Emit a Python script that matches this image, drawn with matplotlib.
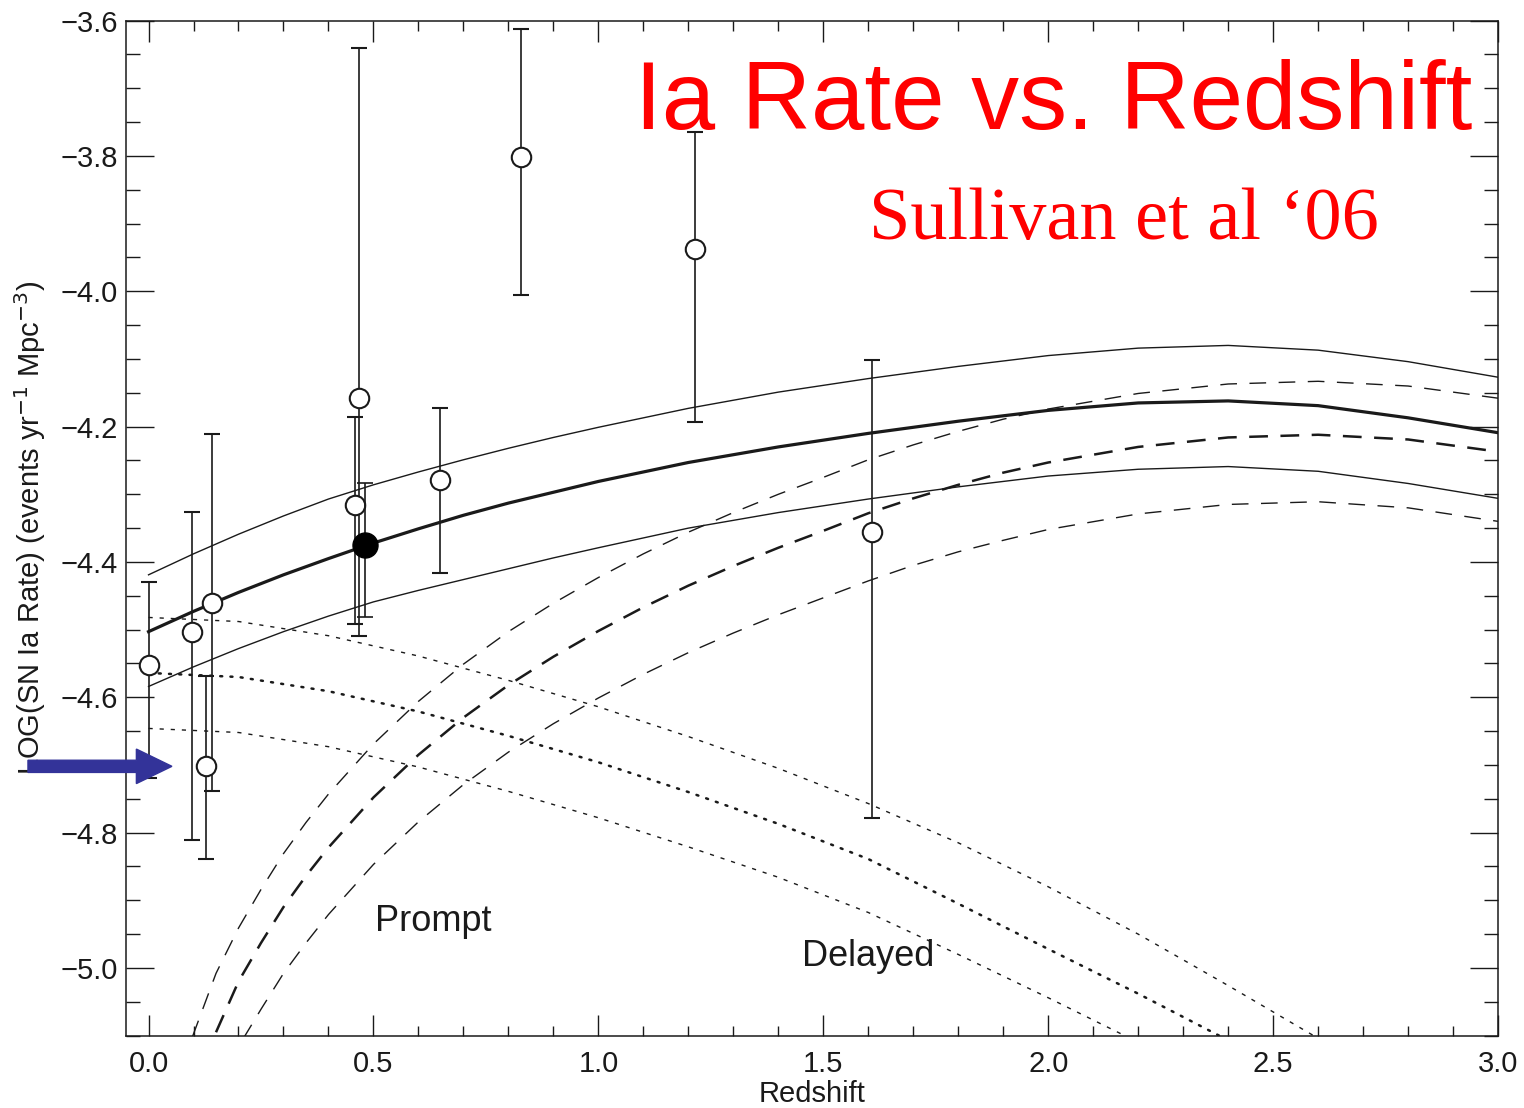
import matplotlib
matplotlib.use('Agg')
import matplotlib.pyplot as plt
from matplotlib.ticker import MultipleLocator, FuncFormatter
from matplotlib.patches import FancyArrow

plt.rcParams['font.family'] = ['Liberation Sans', 'DejaVu Sans']

# SN Ia rate measurements (open circles)
z_obs = [0.0, 0.097, 0.128, 0.140, 0.458, 0.467, 0.647, 0.827, 1.214, 1.608]
rate_obs = [-4.553, -4.504, -4.701, -4.461, -4.316, -4.158, -4.279, -3.802, -3.937, -4.355]
rate_hi = [-4.430, -4.326, -4.569, -4.211, -4.186, -3.641, -4.173, -3.612, -3.764, -4.101]
rate_lo = [-4.719, -4.811, -4.839, -4.738, -4.491, -4.509, -4.416, -4.005, -4.193, -4.778]

# SNLS point (filled)
z_snls = [0.482]
rate_snls = [-4.375]
snls_hi = [-4.283]
snls_lo = [-4.482]

# total model and its band
tot_z = [0.0, 0.1, 0.2, 0.3, 0.4, 0.5, 0.6, 0.7, 0.8, 0.9, 1.0, 1.2, 1.4, 1.6, 1.8, 2.0, 2.2, 2.4, 2.6, 2.8, 3.0]
tot_y = [-4.503, -4.473, -4.445, -4.419, -4.395, -4.372, -4.351, -4.331, -4.313, -4.297, -4.281, -4.253,
         -4.230, -4.210, -4.192, -4.176, -4.165, -4.162, -4.169, -4.187, -4.209]
tot_up_y = [-4.419, -4.388, -4.359, -4.332, -4.307, -4.286, -4.267, -4.249, -4.232, -4.216, -4.201, -4.173,
            -4.149, -4.129, -4.111, -4.095, -4.084, -4.080, -4.087, -4.104, -4.127]
tot_dn_y = [-4.584, -4.555, -4.528, -4.503, -4.480, -4.459, -4.442, -4.426, -4.410, -4.394, -4.379, -4.350,
            -4.327, -4.307, -4.289, -4.273, -4.263, -4.259, -4.266, -4.284, -4.306]

# prompt component (dashed)
pr_up_z = [0.098, 0.15, 0.2, 0.25, 0.3, 0.35, 0.4, 0.5, 0.6, 0.7, 0.8, 0.9, 1.0, 1.1, 1.2, 1.3, 1.4, 1.5,
           1.6, 1.7, 1.8, 1.9, 2.0, 2.2, 2.4, 2.6, 2.8, 3.0]
pr_up_y = [-5.101, -5.008, -4.941, -4.884, -4.831, -4.785, -4.743, -4.669, -4.606, -4.551, -4.503, -4.461,
           -4.423, -4.388, -4.356, -4.327, -4.300, -4.275, -4.249, -4.227, -4.207, -4.189, -4.174, -4.151,
           -4.137, -4.133, -4.140, -4.158]
pr_z = [0.15, 0.2, 0.25, 0.3, 0.35, 0.4, 0.5, 0.6, 0.7, 0.8, 0.9, 1.0, 1.1, 1.2, 1.3, 1.4, 1.5,
        1.6, 1.7, 1.8, 1.9, 2.0, 2.2, 2.4, 2.6, 2.8, 3.0]
pr_y = [-5.095, -5.020, -4.963, -4.910, -4.864, -4.822, -4.748, -4.685, -4.630, -4.582, -4.540, -4.502,
        -4.467, -4.435, -4.406, -4.379, -4.354, -4.328, -4.306, -4.286, -4.268, -4.253, -4.230, -4.216,
        -4.212, -4.219, -4.237]
pr_dn_z = [0.21, 0.25, 0.3, 0.35, 0.4, 0.5, 0.6, 0.7, 0.8, 0.9, 1.0, 1.1, 1.2, 1.3, 1.4, 1.5,
           1.6, 1.7, 1.8, 1.9, 2.0, 2.2, 2.4, 2.6, 2.8, 3.0]
pr_dn_y = [-5.105, -5.061, -5.008, -4.963, -4.921, -4.847, -4.784, -4.729, -4.681, -4.639, -4.601, -4.566,
           -4.534, -4.505, -4.478, -4.453, -4.428, -4.405, -4.385, -4.368, -4.352, -4.329, -4.315, -4.311,
           -4.320, -4.340]

# delayed component (dotted)
de_up_z = [0.0, 0.2, 0.4, 0.6, 0.8, 1.0, 1.2, 1.4, 1.6, 1.8, 2.0, 2.2, 2.4, 2.59]
de_up_y = [-4.482, -4.488, -4.509, -4.539, -4.575, -4.614, -4.658, -4.705, -4.757, -4.815, -4.880, -4.950, -5.026, -5.100]
de_z = [0.0, 0.2, 0.4, 0.6, 0.8, 1.0, 1.2, 1.4, 1.6, 1.8, 2.0, 2.2, 2.38]
de_y = [-4.564, -4.570, -4.591, -4.621, -4.657, -4.696, -4.740, -4.787, -4.839, -4.905, -4.972, -5.038, -5.100]
de_dn_z = [0.0, 0.2, 0.4, 0.6, 0.8, 1.0, 1.2, 1.4, 1.6, 1.8, 2.0, 2.17]
de_dn_y = [-4.646, -4.652, -4.673, -4.703, -4.739, -4.778, -4.821, -4.866, -4.918, -4.980, -5.044, -5.100]

ink = '#1a1a1a'

fig = plt.figure(figsize=(15.24, 11.08), dpi=100)
ax = fig.add_axes([0.0827, 0.0653, 0.9003, 0.9161])

# model curves
ax.plot(tot_z, tot_y, color=ink, lw=2.3)
ax.plot(tot_z, tot_up_y, color=ink, lw=1.0)
ax.plot(tot_z, tot_dn_y, color=ink, lw=1.0)

ax.plot(pr_up_z, pr_up_y, color=ink, lw=1.0, ls=(0, (12, 9)))
ax.plot(pr_z, pr_y, color=ink, lw=1.8, ls=(0, (7.5, 5)))
ax.plot(pr_dn_z, pr_dn_y, color=ink, lw=1.0, ls=(0, (12, 9)))

ax.plot(de_up_z, de_up_y, color=ink, lw=1.0, ls=(0, (3, 5)))
ax.plot(de_z, de_y, color=ink, lw=1.8, ls=(0, (0.8, 3.3)), dash_capstyle='round')
ax.plot(de_dn_z, de_dn_y, color=ink, lw=1.0, ls=(0, (3, 5)))

# data points
err_obs = [[r - l for r, l in zip(rate_obs, rate_lo)], [h - r for r, h in zip(rate_obs, rate_hi)]]
ax.errorbar(z_obs, rate_obs, yerr=err_obs, fmt='o', ms=14, mfc='white', mec=ink, mew=1.5,
            ecolor=ink, elinewidth=1.2, capsize=6, capthick=1.2, zorder=5)
err_snls = [[r - l for r, l in zip(rate_snls, snls_lo)], [h - r for r, h in zip(rate_snls, snls_hi)]]
ax.errorbar(z_snls, rate_snls, yerr=err_snls, fmt='o', ms=18, mfc='black', mec='black',
            ecolor=ink, elinewidth=1.2, capsize=6, capthick=1.2, zorder=6)

ax.set_xlim(-0.05, 3.0)
ax.set_ylim(-5.1, -3.6)
ax.xaxis.set_major_locator(MultipleLocator(0.5))
ax.xaxis.set_minor_locator(MultipleLocator(0.1))
ax.yaxis.set_major_locator(MultipleLocator(0.2))
ax.yaxis.set_minor_locator(MultipleLocator(0.05))
fmt = FuncFormatter(lambda v, p: ('%.1f' % v).replace('-', '\u2212'))
ax.xaxis.set_major_formatter(fmt)
ax.yaxis.set_major_formatter(fmt)

ax.tick_params(which='both', direction='in', top=True, right=True, colors=ink, width=1.0, labelsize=21)
ax.tick_params(axis='y', which='major', length=20, pad=6)
ax.tick_params(axis='y', which='minor', length=10)
ax.tick_params(axis='x', which='major', length=15, pad=10)
ax.tick_params(axis='x', which='minor', length=7.5)
for s in ax.spines.values():
    s.set_linewidth(1.1)
    s.set_color(ink)

ax.set_xlabel('Redshift', fontsize=21, color=ink)
ax.xaxis.set_label_coords(0.5, -0.0436)
ax.set_ylabel(r'LOG(SN Ia Rate) (events yr$^{-1}$ Mpc$^{-3}$)', fontsize=21, color=ink)
ax.yaxis.set_label_coords(-0.057, 0.5)

ax.text(0.632, -4.931, 'Prompt', fontsize=26, ha='center', va='center', color=ink)
ax.text(1.600, -4.983, 'Delayed', fontsize=26, ha='center', va='center', color=ink)

ax.text(0.981, 0.893, 'Ia Rate vs. Redshift', transform=ax.transAxes, fontsize=69,
        color='#ff0000', ha='right', va='baseline')
ax.text(0.727, 0.785, 'Sullivan et al \u201806', transform=ax.transAxes, fontsize=53.5,
        color='#ff0000', ha='center', va='baseline', family='Liberation Serif')

# blue arrow pointing at the local rate
arrow = FancyArrow(-0.268, -4.702, 0.320, 0.0, width=0.018, head_width=0.051, head_length=0.079,
                   length_includes_head=True, color='#333399', clip_on=False, zorder=10)
ax.add_patch(arrow)

fig.savefig('out.png', dpi=100)
